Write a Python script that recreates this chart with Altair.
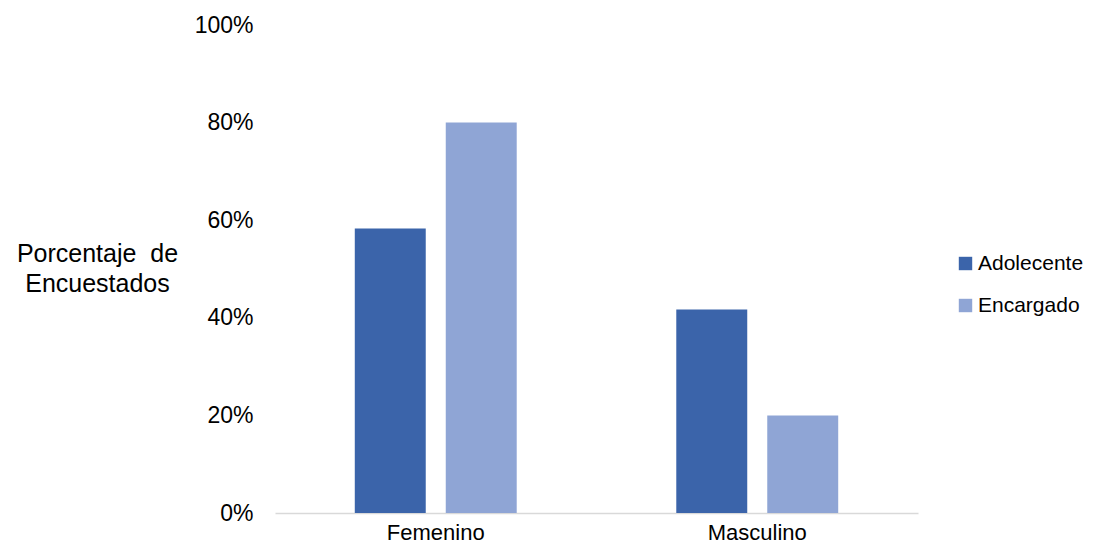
import altair as alt
import pandas as pd

categories = ["Femenino", "Femenino", "Masculino", "Masculino"]
series = ["Adolecente", "Encargado", "Adolecente", "Encargado"]
values = [0.583, 0.80, 0.417, 0.20]

df = pd.DataFrame({"genero": categories, "grupo": series, "valor": values})

FONT = "Liberation Sans"

bars = alt.Chart(df).mark_bar().encode(
    x=alt.X("genero:N", title=None,
            scale=alt.Scale(paddingInner=0, paddingOuter=0),
            axis=alt.Axis(labelAngle=0, ticks=False, domainColor="#d9d9d9",
                          domainWidth=1.5, labelFontSize=22, labelPadding=9,
                          labelColor="#000000", labelFont=FONT)),
    xOffset=alt.XOffset("grupo:N",
                        scale=alt.Scale(paddingInner=0.22, paddingOuter=0.877)),
    y=alt.Y("valor:Q", scale=alt.Scale(domain=[0, 1]),
            axis=alt.Axis(format=".0%", values=[0, 0.2, 0.4, 0.6, 0.8, 1.0],
                          grid=False, domain=False, ticks=False,
                          labelFontSize=23, labelPadding=22, labelColor="#000000",
                          labelFont=FONT,
                          title=["Porcentaje\u00a0 de", "Encuestados"],
                          titleAngle=0, titleAlign="center", titleBaseline="top",
                          titleX=-178, titleY=216, titleFontSize=25,
                          titleFontWeight="normal", titleColor="#000000",
                          titleFont=FONT, titleLineHeight=30)),
    color=alt.Color("grupo:N",
                    scale=alt.Scale(domain=["Adolecente", "Encargado"],
                                    range=["#3b64aa", "#8fa5d5"]),
                    legend=alt.Legend(title=None, orient="none", legendX=680,
                                      legendY=228, symbolType="square",
                                      symbolSize=180, symbolStrokeWidth=0,
                                      labelFontSize=21, labelFont=FONT,
                                      labelColor="#000000", rowPadding=20,
                                      labelOffset=2)),
).properties(
    width=643, height=488,
    padding={"left": 267, "top": 17, "right": 172, "bottom": 31},
    autosize=alt.AutoSizeParams(type="none"),
    background="white",
)

chart = bars.configure_view(strokeWidth=0, stroke="transparent")

chart.save("out.html", embed_options={"renderer": "svg", "actions": False})
